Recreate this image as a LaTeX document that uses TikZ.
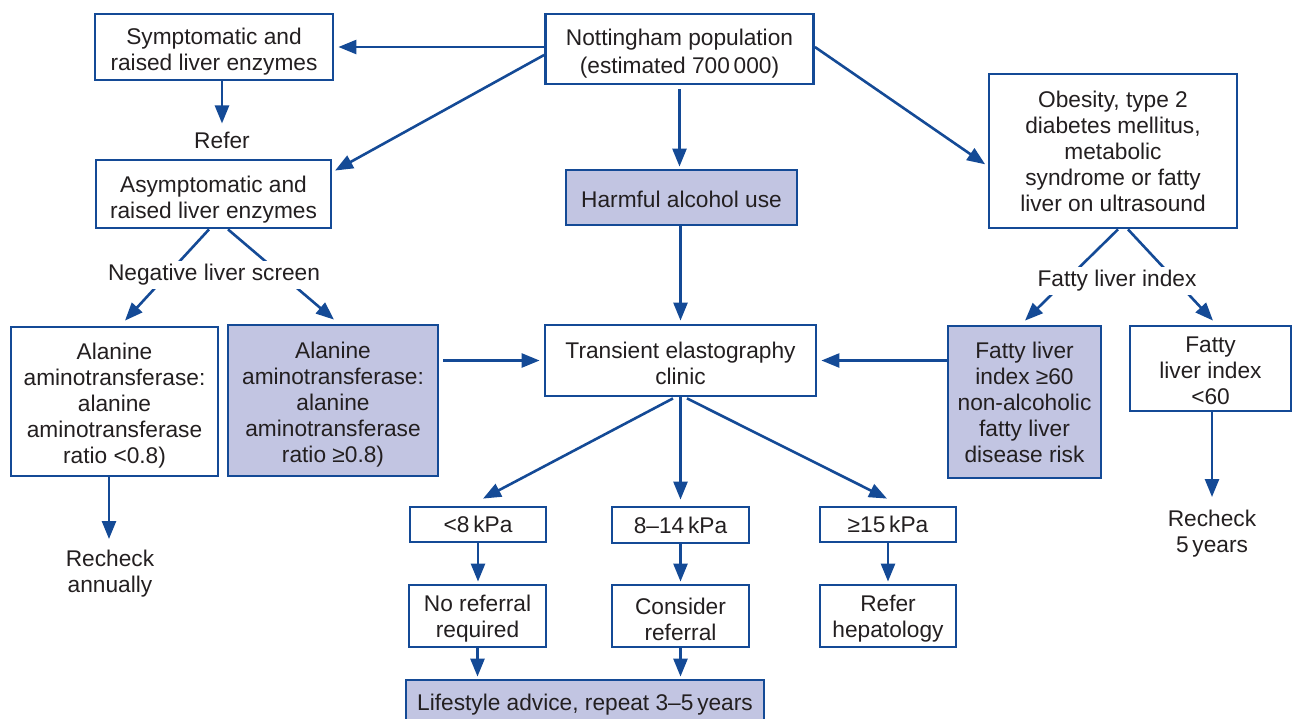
\documentclass[tikz,border=0pt]{standalone}
\usepackage{fontspec}
\setmainfont{Liberation Sans}
\usetikzlibrary{arrows.meta,calc,backgrounds}
\definecolor{lineblue}{RGB}{20,74,150}
\definecolor{boxfill}{RGB}{194,197,226}
\definecolor{txt}{RGB}{35,31,32}
\newcommand{\dn}[1]{\rule{0pt}{#1pt}}
\tikzset{
  x=1pt, y=-1pt,
  every node/.style={font=\fontsize{22.7}{26}\selectfont, text=txt, align=center, inner sep=0pt},
  box/.style={draw=lineblue, line width=2.8pt, fill=white},
  shaded/.style={box, fill=boxfill},
  lbl/.style={fill=white, inner sep=3pt},
  arr/.style={draw=lineblue, line width=2.6pt, -{Triangle[length=18pt,width=14pt]}, shorten >=3pt},
}
\begin{document}
\begin{tikzpicture}
\useasboundingbox (0,0) rectangle (1293,718);
% boxes
\node[box, minimum width=268pt, minimum height=70pt] (notts) at (679.5,49) {\dn{26}Nottingham population\\[2pt](estimated 700\,000)};
\node[box, minimum width=238pt, minimum height=66pt] (symp) at (214,47) {\dn{26.5}Symptomatic and\\raised liver enzymes};
\node (refer) at (222,140) {Refer};
\node[box, minimum width=235pt, minimum height=68pt] (asym) at (213.5,194) {\dn{27}Asymptomatic and\\raised liver enzymes};
\node[shaded, minimum width=231pt, minimum height=55pt] (harm) at (681.5,197.5) {\dn{20.5}Harmful alcohol use};
\node[box, minimum width=248pt, minimum height=154pt] (obes) at (1113,151) {\dn{18}Obesity, type 2\\diabetes mellitus,\\metabolic\\syndrome or fatty\\liver on ultrasound};
\node[box, minimum width=207pt, minimum height=149pt] (alaL) at (114.5,401.5) {\dn{24.5}Alanine\\aminotransferase:\\alanine\\aminotransferase\\ratio <0.8)};
\node[shaded, minimum width=210pt, minimum height=151pt] (alaR) at (333,400.5) {\dn{24.5}Alanine\\aminotransferase:\\alanine\\aminotransferase\\ratio ≥0.8)};
\node[box, minimum width=271pt, minimum height=71pt] (trans) at (680.5,360.5) {\dn{22.5}Transient elastography\\clinic};
\node[shaded, minimum width=153pt, minimum height=152pt] (fat60) at (1024.5,402) {Fatty liver\\index ≥60\\non-alcoholic\\fatty liver\\disease risk};
\node[box, minimum width=161pt, minimum height=85pt] (fatlt) at (1210.5,368.5) {\dn{20.5}Fatty\\liver index\\<60};
\node (rechA) at (110,574) {Recheck\\annually};
\node (rech5) at (1212,534) {Recheck\\5\,years};
\node[box, minimum width=136pt, minimum height=35pt] (k8) at (478,524.5) {<8\,kPa};
\node[box, minimum width=137pt, minimum height=36pt] (k814) at (680.5,525) {8–14\,kPa};
\node[box, minimum width=136pt, minimum height=35pt] (k15) at (888,524.5) {≥15\,kPa};
\node[box, minimum width=137pt, minimum height=62pt] (nor) at (477.5,616) {\dn{22.5}No referral\\required};
\node[box, minimum width=137pt, minimum height=62pt] (cons) at (680.5,616) {\dn{22.5}Consider\\referral};
\node[box, minimum width=136pt, minimum height=62pt] (refh) at (888,616) {\dn{22.5}Refer\\hepatology};
\node[shaded, minimum width=358pt, minimum height=50pt] (life) at (585,705) {Lifestyle advice, repeat 3–5\,years};
\node[lbl] (neg) at (214,275) {Negative liver screen};
\node[lbl] (fli) at (1117,281) {Fatty liver index};
% connectors
\begin{pgfonlayer}{background}
\draw[arr, shorten >=4pt] (notts.west |- symp.east) -- (symp.east);
\draw[arr] ($(notts.west)+(0,6)$) -- ($(asym.east)+(0,-22)$);
\draw[arr, shorten <=4pt, shorten >=2pt] (notts.south) -- (notts.south |- harm.north);
\draw[arr] ($(notts.east)+(0,-2)$) -- ($(obes.west)+(0,15)$);
\draw[arr, shorten >=8pt] (refer.north |- symp.south) -- (refer.north);
\draw[arr, shorten >=0pt] ($(asym.south)+(-4.5,0)$) -- ($(alaL.north)+(10.5,-5)$);
\draw[arr, shorten >=0pt] ($(asym.south)+(14.5,0)$) -- ($(alaR.north)+(1,-4)$);
\draw[arr, shorten >=0pt] ($(alaL.south)+(-5.5,0)$) -- ($(rechA.center)+(-1,-35)$);
\draw[arr, shorten >=4pt, shorten <=4pt] (alaR.east |- trans.west) -- (trans.west);
\draw[arr, shorten >=4pt] (fat60.west |- trans.east) -- (trans.east);
\draw[arr] (trans.north |- harm.south) -- (trans.north);
\draw[arr, shorten >=0pt] ($(obes.south)+(5,0)$) -- ($(fat60.north)+(0.5,-4)$);
\draw[arr, shorten >=0pt] ($(obes.south)+(15,0)$) -- ($(fatlt.north)+(2.5,-4)$);
\draw[arr, shorten >=0pt] ($(fatlt.south)+(1.5,0)$) -- ($(rech5.center)+(0,-37)$);
\draw[arr, shorten >=0pt] ($(trans.south)+(-7.5,1)$) -- ($(k8.north)+(5,-7)$);
\draw[arr, shorten >=6pt] (trans.south) -- (trans.south -| k814.north) -- (k814.north);
\draw[arr, shorten >=0pt] ($(trans.south)+(6.5,1)$) -- ($(k15.north)+(-1,-7)$);
\draw[arr, shorten >=2pt] (k8.south) -- (k8.south |- nor.north);
\draw[arr, shorten >=2pt] (k814.south) -- (k814.south |- cons.north);
\draw[arr, shorten >=2pt] (k15.south) -- (k15.south |- refh.north);
\draw[arr, shorten >=2pt] (nor.south) -- (nor.south |- life.north);
\draw[arr, shorten >=2pt] (cons.south) -- (cons.south |- life.north);
\end{pgfonlayer}
\end{tikzpicture}
\end{document}
